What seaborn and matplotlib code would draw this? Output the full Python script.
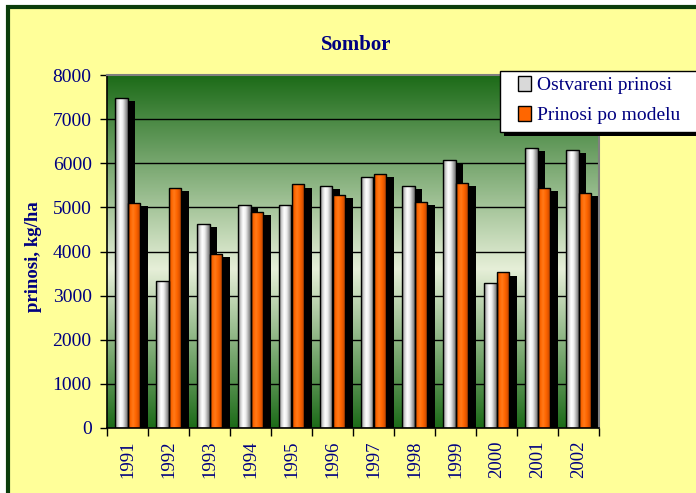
import numpy as np
import pandas as pd
import matplotlib
matplotlib.use('Agg')
import matplotlib.pyplot as plt
import seaborn as sns
from matplotlib.patches import Rectangle, Patch
from matplotlib.colors import LinearSegmentedColormap

# Podaci (procijenjeni sa grafika)
godine = ['1991', '1992', '1993', '1994', '1995', '1996',
          '1997', '1998', '1999', '2000', '2001', '2002']
ostvareni = [7480, 3330, 4620, 5050, 5050, 5480, 5680, 5480, 6070, 3290, 6340, 6300]
po_modelu = [5090, 5440, 3950, 4890, 5520, 5280, 5760, 5130, 5560, 3525, 5440, 5320]
serije = ['Ostvareni prinosi', 'Prinosi po modelu']

df = pd.DataFrame({'godina': godine, serije[0]: ostvareni, serije[1]: po_modelu})
df = df.melt(id_vars='godina', var_name='serija', value_name='prinos')

sns.set_style('white')
plt.rcParams['font.family'] = ['Liberation Serif', 'DejaVu Serif']

plava = '#000080'
zuta = '#ffff99'
W, H = 696, 493

fig = plt.figure(figsize=(6.96, 4.93), dpi=100, facecolor='white')
# zuta pozadina sa tamnozelenim okvirom (vidljiv lijevo i gore)
fig.patches.append(Rectangle((8 / W, -0.2), 1.2, 1.2 - 7 / H,
                             transform=fig.transFigure, facecolor=zuta,
                             edgecolor='#0b3d0b', linewidth=3, zorder=-5))

ax = fig.add_axes([107 / W, 65 / H, 492 / W, 353 / H])
sns.barplot(data=df, x='godina', y='prinos', hue='serija', hue_order=serije,
            palette=['#d9d9d9', '#ff6600'], saturation=1, width=0.59,
            edgecolor='black', linewidth=1, legend=False, ax=ax)

# pozadina plot area: zeleni gradijent
bg = LinearSegmentedColormap.from_list('bg', [(0, '#1c6b18'), (0.45, '#e6efd8'), (1, '#1c6b18')])
ax.imshow(np.linspace(0, 1, 256).reshape(-1, 1), extent=[-0.5, 11.5, 0, 8000],
          aspect='auto', cmap=bg, origin='lower', zorder=0)
for y in range(1000, 8000, 1000):
    ax.axhline(y, color='black', linewidth=1, zorder=1)

siva = LinearSegmentedColormap.from_list('siva', ['#7a7a7a', '#cfcfcf', '#ffffff', '#eeeeee', '#b0b0b0', '#6e6e6e'])
narandz = LinearSegmentedColormap.from_list('nar', ['#b84800', '#ff6600', '#ff7a1a', '#ff6600', '#e05500', '#a03c00'])

dx, dy = 0.195, 70
n = len(godine)
for i, p in enumerate(list(ax.patches)):
    x, w, h = p.get_x(), p.get_width(), p.get_height()
    ax.add_patch(Rectangle((x + dx, 0), w, max(h - dy, 0), facecolor='black',
                           edgecolor='none', zorder=1.5))
    cmap = siva if i < n else narandz
    im = ax.imshow(np.linspace(0, 1, 64).reshape(1, -1), extent=[x, x + w, 0, h],
                   aspect='auto', cmap=cmap, zorder=2, interpolation='bilinear')
    im.set_clip_path(p)
    p.set_facecolor('none')
    p.set_zorder(2.5)

ax.set_xlim(-0.5, 11.5)
ax.set_ylim(0, 8000)
ax.set_yticks(range(0, 8001, 1000))
ax.set_xticks(range(n))
ax.set_xticklabels(godine, rotation=90)
ax.set_xticks(np.arange(-0.5, n, 1), minor=True)
ax.set_xlabel('')
ax.set_ylabel('')

ax.tick_params(axis='y', left=True, direction='out', length=5, width=1, color='black',
               labelcolor=plava, labelsize=14, pad=6)
ax.tick_params(axis='x', which='major', bottom=True, length=0, labelcolor=plava,
               labelsize=13.5, pad=9)
ax.tick_params(axis='x', which='minor', bottom=True, direction='out', length=6,
               width=1, color='black')

for s in ['left', 'bottom']:
    ax.spines[s].set_color('black')
    ax.spines[s].set_linewidth(1.2)
for s in ['top', 'right']:
    ax.spines[s].set_visible(True)
    ax.spines[s].set_color('#808080')
    ax.spines[s].set_linewidth(1.5)

fig.text(356 / W, 1 - 45 / H, 'Sombor', ha='center', va='center',
         fontsize=15, fontweight='bold', color=plava)
fig.text(34 / W, 1 - 257 / H, 'prinosi, kg/ha', ha='center', va='center',
         rotation=90, fontsize=13.5, fontweight='bold', color=plava)

# okvir legende sa crnom sjenkom
fig.patches.append(Rectangle((504 / W, 1 - 136 / H), 200 / W, 61 / H,
                             transform=fig.transFigure, facecolor='black',
                             edgecolor='none', zorder=4))
fig.patches.append(Rectangle((500 / W, 1 - 132 / H), 200 / W, 61 / H,
                             transform=fig.transFigure, facecolor='white',
                             edgecolor='black', linewidth=1, zorder=4.5))
rucke = [Patch(facecolor='#d9d9d9', edgecolor='black', label=serije[0]),
         Patch(facecolor='#ff6600', edgecolor='black', label=serije[1])]
leg = fig.legend(handles=rucke, loc='upper left', bbox_to_anchor=(512 / W, 1 - 70 / H),
                 frameon=False, fontsize=14,
                 handlelength=0.7, handleheight=0.8, handletextpad=0.3,
                 borderpad=0.3, labelspacing=0.6, borderaxespad=0)
leg.set_zorder(6)
for t in leg.get_texts():
    t.set_color(plava)

fig.savefig('out.png', dpi=100, facecolor=fig.get_facecolor())
